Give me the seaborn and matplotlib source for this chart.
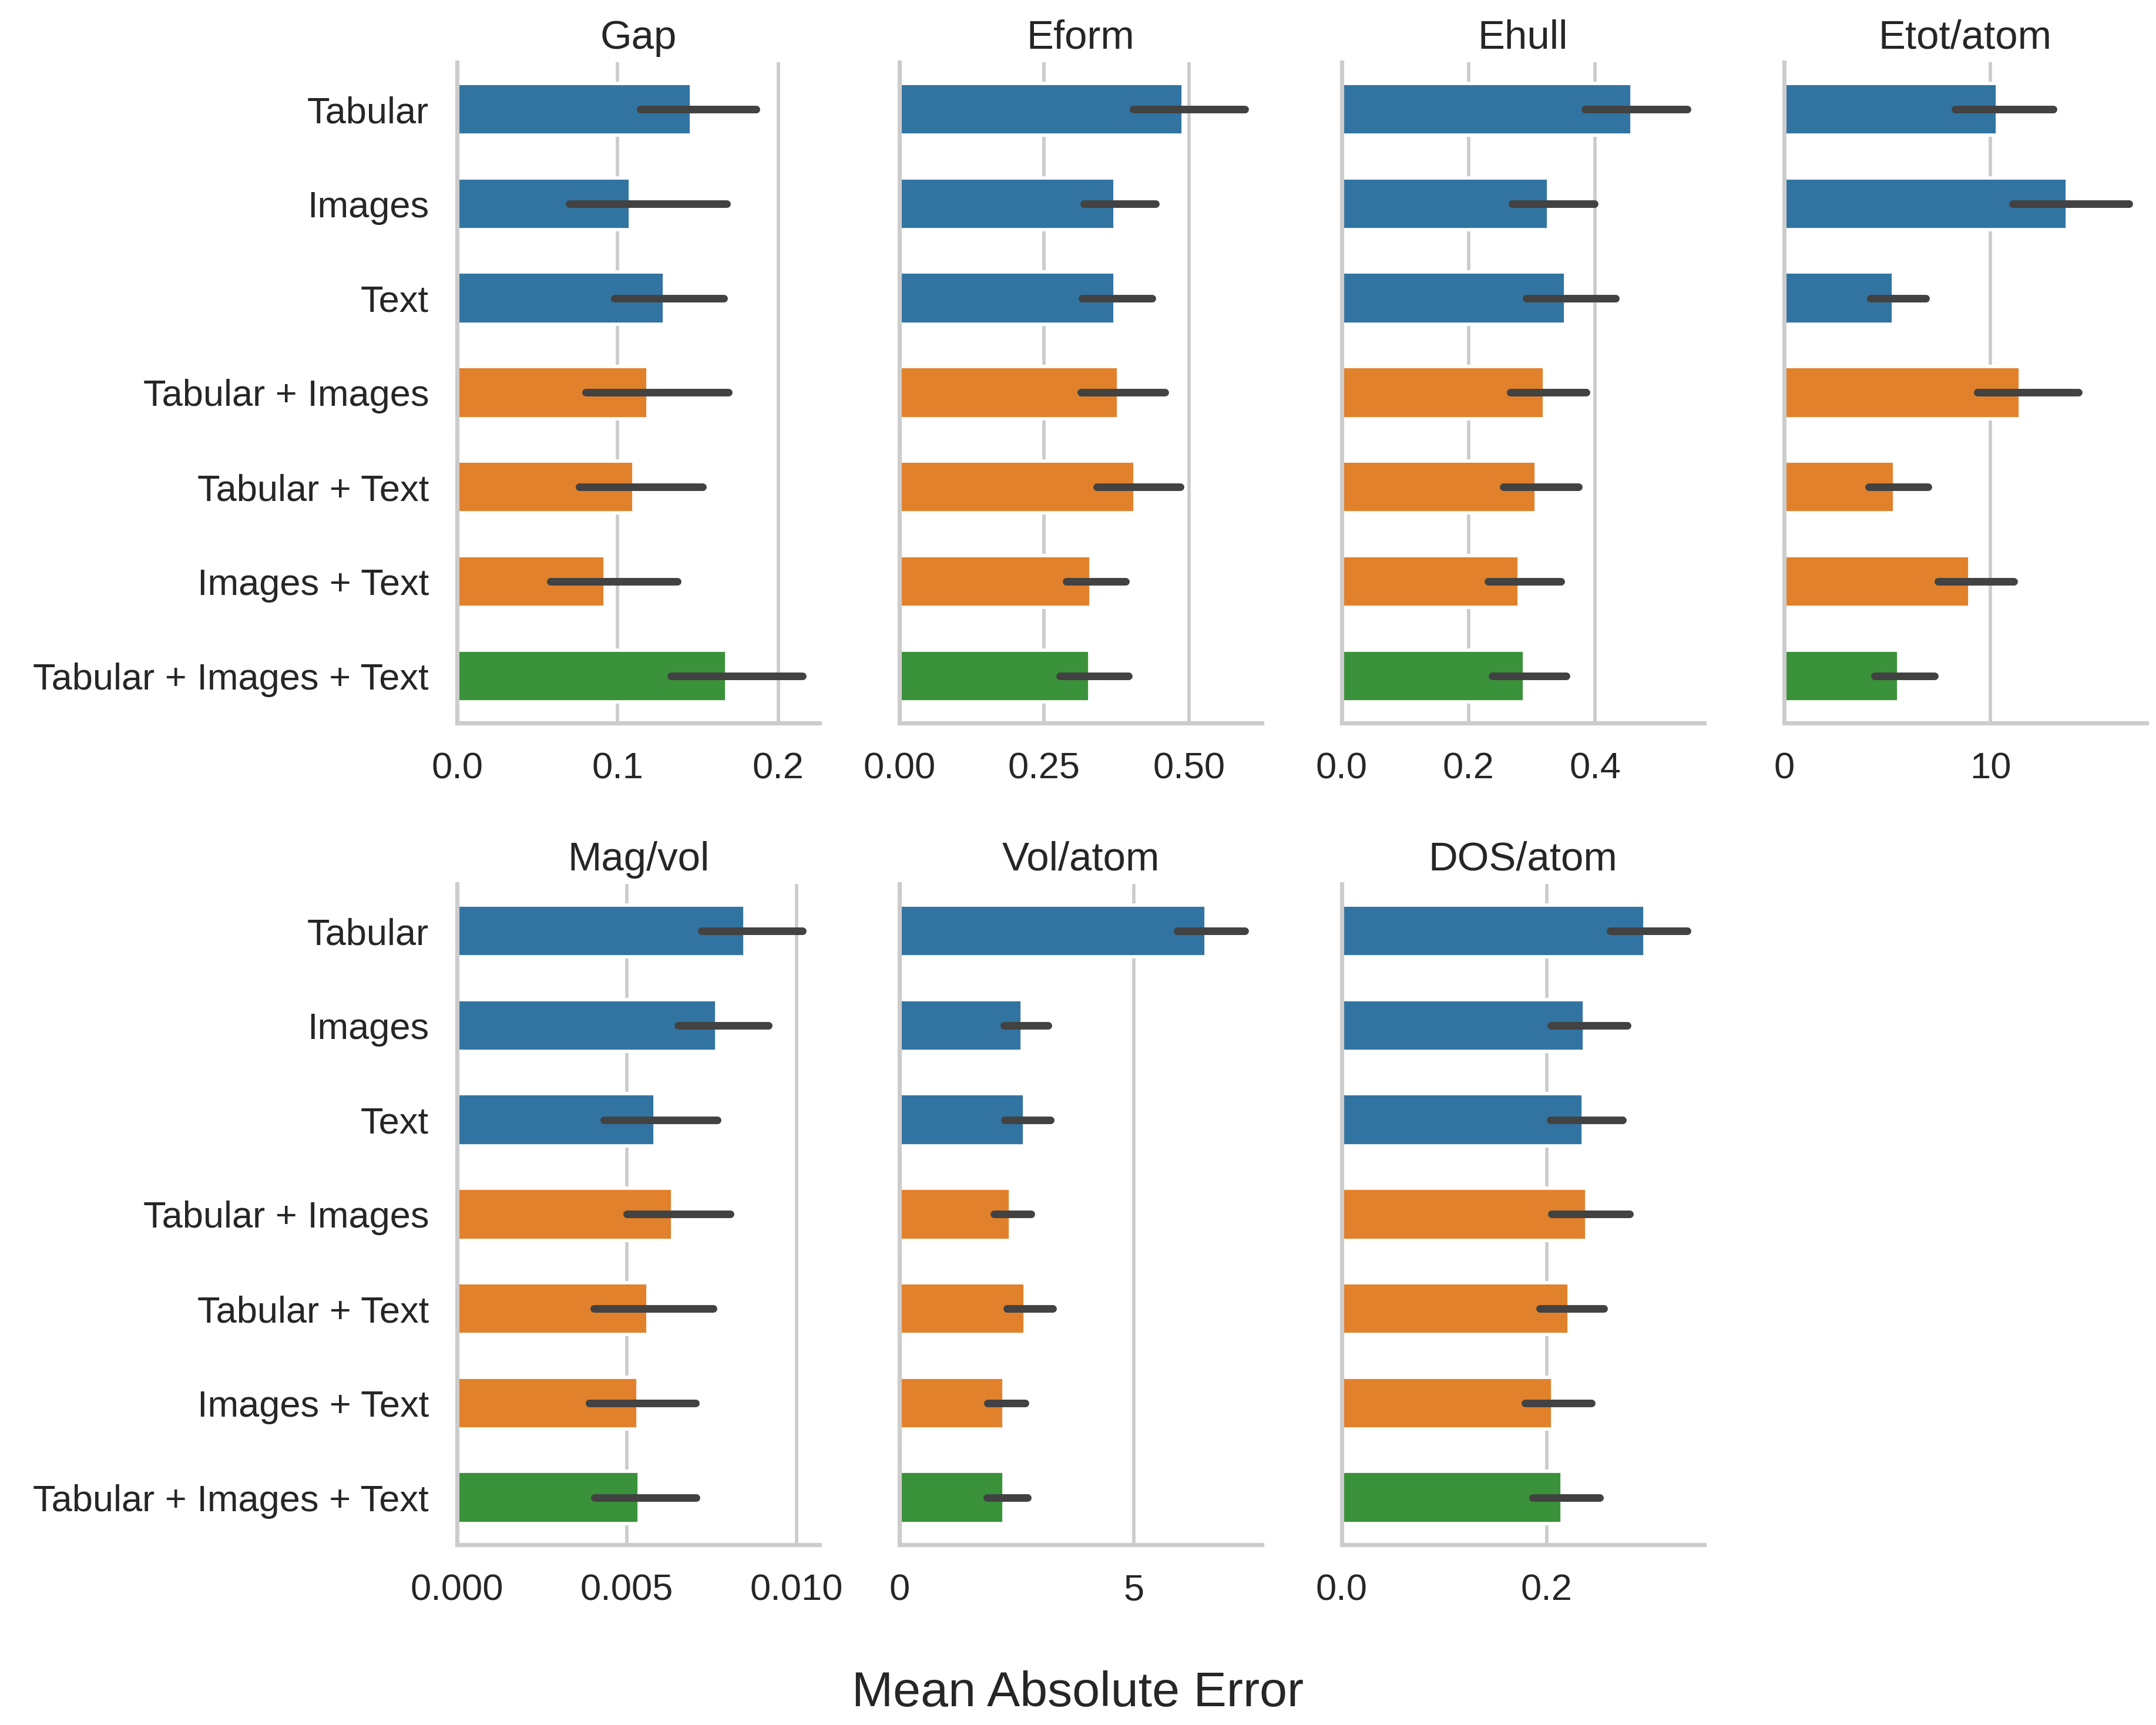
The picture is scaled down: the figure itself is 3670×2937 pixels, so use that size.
import matplotlib
matplotlib.use("Agg")
import matplotlib.pyplot as plt
import pandas as pd
import seaborn as sns


categories = ["Tabular", "Images", "Text", "Tabular + Images",
              "Tabular + Text", "Images + Text", "Tabular + Images + Text"]
groups = ["single", "single", "single", "pair", "pair", "pair", "triple"]

targets = ["Gap", "Eform", "Ehull", "Etot/atom", "Mag/vol", "Vol/atom", "DOS/atom"]

# mean absolute error per modality, and lower / upper ends of the error bars
gap_mae = [0.146, 0.108, 0.129, 0.119, 0.110, 0.092, 0.168]
gap_lo = [0.114, 0.070, 0.098, 0.080, 0.076, 0.058, 0.133]
gap_hi = [0.186, 0.168, 0.166, 0.169, 0.153, 0.137, 0.215]

eform_mae = [0.490, 0.372, 0.372, 0.378, 0.407, 0.331, 0.329]
eform_lo = [0.404, 0.318, 0.315, 0.313, 0.341, 0.288, 0.277]
eform_hi = [0.596, 0.442, 0.436, 0.458, 0.485, 0.390, 0.396]

ehull_mae = [0.458, 0.327, 0.353, 0.320, 0.307, 0.280, 0.289]
ehull_lo = [0.384, 0.269, 0.291, 0.266, 0.255, 0.231, 0.238]
ehull_hi = [0.545, 0.399, 0.432, 0.386, 0.374, 0.346, 0.354]

etot_mae = [10.33, 13.73, 5.31, 11.45, 5.35, 9.00, 5.56]
etot_lo = [8.30, 11.08, 4.19, 9.38, 4.11, 7.47, 4.40]
etot_hi = [13.03, 16.72, 6.85, 14.27, 6.97, 11.12, 7.30]

mag_mae = [0.00847, 0.00765, 0.00583, 0.00635, 0.00563, 0.00533, 0.00537]
mag_lo = [0.00720, 0.00650, 0.00432, 0.00500, 0.00403, 0.00390, 0.00405]
mag_hi = [0.01017, 0.00917, 0.00767, 0.00805, 0.00755, 0.00703, 0.00705]

vol_mae = [6.55, 2.62, 2.67, 2.37, 2.69, 2.23, 2.23]
vol_lo = [5.93, 2.23, 2.24, 2.02, 2.30, 1.88, 1.87]
vol_hi = [7.37, 3.17, 3.22, 2.81, 3.27, 2.69, 2.74]

dos_mae = [0.296, 0.237, 0.236, 0.239, 0.222, 0.206, 0.215]
dos_lo = [0.262, 0.204, 0.2035, 0.205, 0.1935, 0.179, 0.1865]
dos_hi = [0.337, 0.279, 0.274, 0.281, 0.256, 0.2435, 0.252]

results = {
    "Gap": (gap_mae, gap_lo, gap_hi),
    "Eform": (eform_mae, eform_lo, eform_hi),
    "Ehull": (ehull_mae, ehull_lo, ehull_hi),
    "Etot/atom": (etot_mae, etot_lo, etot_hi),
    "Mag/vol": (mag_mae, mag_lo, mag_hi),
    "Vol/atom": (vol_mae, vol_lo, vol_hi),
    "DOS/atom": (dos_mae, dos_lo, dos_hi),
}


sns.set_theme(style="whitegrid", context="talk")
plt.rcParams["font.family"] = ["Liberation Sans", "DejaVu Sans"]

palette = dict(zip(["single", "pair", "triple"], sns.color_palette("tab10", 3)))

fig, axes = plt.subplots(2, 4, figsize=(3670 / 276, 2937 / 276), sharey=True)
fig.subplots_adjust(left=0.212, right=0.9956, top=0.964, bottom=0.1045,
                    wspace=0.22, hspace=0.243)

for ax, target in zip(axes.flat, targets):
    mae, lo, hi = results[target]
    df = pd.DataFrame({"modality": categories, "group": groups, "mae": mae})
    sns.barplot(data=df, x="mae", y="modality", hue="group", palette=palette,
                dodge=False, width=0.55, errorbar=None, legend=False, ax=ax)
    lw = 1.5 * plt.rcParams["lines.linewidth"]
    for i in range(len(categories)):
        ax.plot([lo[i], hi[i]], [i, i], color=".26", linewidth=lw,
                solid_capstyle="round")
    ax.set_ylim(len(categories) - 0.5, -0.5)
    ax.set_title(target)
    ax.set_xlabel("")
    ax.set_ylabel("")
    ax.yaxis.grid(False)
    sns.despine(ax=ax)

axes[1, 3].axis("off")

fig.supxlabel("Mean Absolute Error", fontsize=22, y=0.005)

fig.savefig("out.png", dpi=276)
